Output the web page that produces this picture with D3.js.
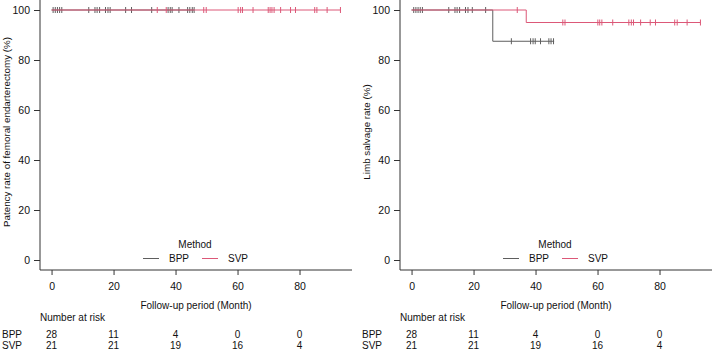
<!DOCTYPE html>
<html>
<head>
<meta charset="utf-8">
<script src="https://cdn.jsdelivr.net/npm/d3@7"></script>
<style>
  body { margin: 0; background: #fff; }
  svg { display: block; font-family: "Liberation Sans", Arial, Helvetica, sans-serif; }
</style>
</head>
<body>
<svg id="chart"></svg>
<script>
// shared axis ticks and risk table
const timeTicks = [0, 20, 40, 60, 80];
const rateTicks = [0, 20, 40, 60, 80, 100];
const groups = ["BPP", "SVP"];
const atRiskBPP = [28, 11, 4, 0, 0];
const atRiskSVP = [21, 21, 19, 16, 4];

// panel 1: patency (no events)
const patencyBPPSteps = [[0, 100]];
const patencyBPPEnd = 46;
const patencyBPPCensor = [0.5, 1.2, 1.9, 2.6, 3.3, 12, 14, 14.7, 15.5, 17.4, 18.2, 18.9, 23.9, 25.8,
  32.3, 37.6, 38.3, 38.9, 41.1, 43.9, 44.6, 45.4, 46];
const patencySVPSteps = [[0, 100]];
const patencySVPEnd = 93.2;
const patencySVPCensor = [34.1, 37, 49.1, 49.9, 60.2, 61, 61.6, 65, 69.9, 70.5, 71.1, 71.8, 73.9,
  77.1, 78.7, 84.9, 85.6, 88.9, 93.2];

// panel 2: limb salvage
const limbBPPSteps = [[0, 100], [26.2, 87.5]];
const limbBPPEnd = 46;
const limbBPPCensor = [0.7, 1.4, 2.1, 2.8, 3.5, 12, 14, 14.7, 15.5, 17.4, 18.2, 19.6, 23.9,
  32.2, 38.4, 39.2, 39.9, 41.6, 44.3, 45, 45.8];
const limbSVPSteps = [[0, 100], [37, 95]];
const limbSVPEnd = 93.2;
const limbSVPCensor = [34.1, 48.8, 49.5, 60.1, 60.7, 61.4, 64.9, 70.1, 70.9, 71.6, 73.9, 77, 78.7,
  84.9, 85.7, 88.9, 93.2];

const colors = { BPP: "#5e5e5e", SVP: "#dc5878" };

const width = 712, height = 350;
const svg = d3.select("#chart").attr("width", width).attr("height", height);

function survAt(steps, t) {
  let s = steps[0][1];
  steps.forEach(d => { if (d[0] <= t) s = d[1]; });
  return s;
}

function drawPanel(offsetX, ylabel, series) {
  const g = svg.append("g").attr("transform", `translate(${offsetX},0)`);
  const plotLeft = 40, plotRight = 352, plotTop = 0, plotBottom = 270;

  const x = d3.scaleLinear().domain([-3.73, 96.93]).range([plotLeft, plotRight]);
  const y = d3.scaleLinear().domain([-4, 104]).range([plotBottom, plotTop]);

  // L-shaped box
  g.append("path")
    .attr("d", `M${plotLeft},${plotTop}V${plotBottom}H${plotRight}`)
    .attr("fill", "none").attr("stroke", "#333").attr("stroke-width", 1);

  const xAxis = d3.axisBottom(x).tickValues(timeTicks).tickSize(5).tickPadding(8);
  const xg = g.append("g").attr("transform", `translate(0,${plotBottom})`).call(xAxis);
  xg.select(".domain").remove();

  const yAxis = d3.axisLeft(y).tickValues(rateTicks).tickSize(6).tickPadding(4);
  const yg = g.append("g").attr("transform", `translate(${plotLeft},0)`).call(yAxis);
  yg.select(".domain").remove();

  g.selectAll(".tick line").attr("stroke", "#333");
  g.selectAll(".tick text").attr("fill", "#111").style("font-size", "10.5px")
    .style("font-family", "'Liberation Sans', Arial, sans-serif");

  g.append("text")
    .attr("transform", `translate(10,${(plotTop + plotBottom) / 2 - 3}) rotate(-90)`)
    .attr("text-anchor", "middle").attr("font-size", 9.8).attr("fill", "#111")
    .text(ylabel);

  g.append("text")
    .attr("x", (plotLeft + plotRight) / 2).attr("y", 309)
    .attr("text-anchor", "middle").attr("font-size", 10).attr("fill", "#111")
    .text("Follow-up period (Month)");

  // curves
  const line = d3.line().x(d => x(d[0])).y(d => y(d[1])).curve(d3.curveStepAfter);
  series.forEach(s => {
    const pts = s.steps.concat([[s.end, s.steps[s.steps.length - 1][1]]]);
    g.append("path").datum(pts)
      .attr("d", line).attr("fill", "none")
      .attr("stroke", colors[s.name]).attr("stroke-width", 1);
    g.selectAll(null).data(s.censor).enter().append("line")
      .attr("x1", d => x(d)).attr("x2", d => x(d))
      .attr("y1", d => y(survAt(s.steps, d)) - 3)
      .attr("y2", d => y(survAt(s.steps, d)) + 3)
      .attr("stroke", colors[s.name]).attr("stroke-width", 1);
  });

  // legend
  g.append("text").attr("x", 195).attr("y", 248)
    .attr("text-anchor", "middle").attr("font-size", 10).attr("fill", "#111").text("Method");
  const legX = { BPP: 143, SVP: 202 };
  groups.forEach(name => {
    g.append("line").attr("x1", legX[name]).attr("x2", legX[name] + 16)
      .attr("y1", 258.5).attr("y2", 258.5).attr("stroke", colors[name]);
    g.append("text").attr("x", legX[name] + 26).attr("y", 262)
      .attr("font-size", 10).attr("fill", "#111").text(name);
  });

  // risk table
  g.append("text").attr("x", 40).attr("y", 321)
    .attr("font-size", 10).attr("fill", "#111").text("Number at risk");
  const rows = [["BPP", atRiskBPP, 338], ["SVP", atRiskSVP, 348.5]];
  rows.forEach(([name, vals, yy]) => {
    g.append("text").attr("x", 2).attr("y", yy)
      .attr("font-size", 10).attr("fill", "#111").text(name);
    g.selectAll(null).data(vals).enter().append("text")
      .attr("x", (d, i) => x(timeTicks[i])).attr("y", yy)
      .attr("text-anchor", "middle").attr("font-size", 10).attr("fill", "#111")
      .text(d => d);
  });
}

drawPanel(0, "Patency rate of femoral endarterectomy (%)", [
  { name: "BPP", steps: patencyBPPSteps, end: patencyBPPEnd, censor: patencyBPPCensor },
  { name: "SVP", steps: patencySVPSteps, end: patencySVPEnd, censor: patencySVPCensor }
]);

drawPanel(360, "Limb salvage rate (%)", [
  { name: "BPP", steps: limbBPPSteps, end: limbBPPEnd, censor: limbBPPCensor },
  { name: "SVP", steps: limbSVPSteps, end: limbSVPEnd, censor: limbSVPCensor }
]);
</script>
</body>
</html>
